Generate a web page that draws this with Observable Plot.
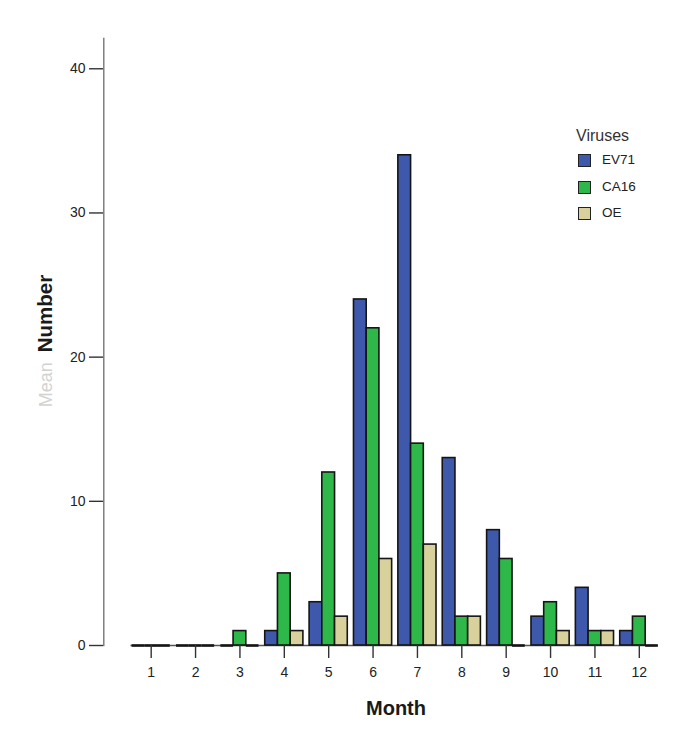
<!DOCTYPE html>
<html>
<head>
<meta charset="utf-8">
<script src="https://cdn.jsdelivr.net/npm/d3@7"></script>
<script src="https://cdn.jsdelivr.net/npm/@observablehq/plot@0.6"></script>
<style>
  html, body { margin: 0; padding: 0; background: #fff; }
  #wrap { position: relative; width: 685px; height: 735px; font-family: "Liberation Sans", Arial, sans-serif; }
  #legend { position: absolute; left: 0; top: 0; color: #333; }
  .lg-title { position: absolute; left: 576px; top: 127px; font-size: 16px; white-space: nowrap; }
  .lg-row { position: absolute; left: 578px; white-space: nowrap; height: 14px; }
  .lg-sw { position: absolute; left: 0; top: 0; width: 11px; height: 11px; border: 1.5px solid #222; }
  .lg-lab { position: absolute; left: 24px; top: -2px; font-size: 13.5px; color: #222; }
</style>
</head>
<body>
<div id="wrap"><div id="legend"></div></div>
<script>
const months = [1, 2, 3, 4, 5, 6, 7, 8, 9, 10, 11, 12];
const viruses = ["EV71", "CA16", "OE"];
const ev71 = [0, 0, 0, 1, 3, 24, 34, 13, 8, 2, 4, 1];
const ca16 = [0, 0, 1, 5, 12, 22, 14, 2, 6, 3, 1, 2];
const oe   = [0, 0, 0, 1, 2, 6, 7, 2, 0, 1, 1, 0];
const yTicks = [0, 10, 20, 30, 40];
const colors = ["#3E58AC", "#2EB84A", "#D8D19B"];
const legendTitle = "Viruses";
const xLabel = "Month";
const yLabelFaded = "Mean";
const yLabel = "Number";

const series = [ev71, ca16, oe];
const data = [];
months.forEach((m, i) => {
  viruses.forEach((v, j) => data.push({month: m, virus: v, value: series[j][i]}));
});

const chart = Plot.plot({
  width: 685,
  height: 735,
  marginLeft: 103,
  marginRight: 24,
  marginTop: 38,
  marginBottom: 90,
  style: {fontFamily: "'Liberation Sans', Arial, sans-serif", fontSize: "13px", color: "#222", background: "#fff"},
  fx: {domain: months, paddingInner: 0.14, paddingOuter: 0.07, insetLeft: 25.5, round: false, label: null, axis: null},
  x: {domain: viruses, padding: 0, round: false, axis: null},
  y: {domain: [0, 42.1], axis: null},
  color: {domain: viruses, range: colors},
  marks: [
    Plot.frame({anchor: "left", facet: "super", dx: -28.3, stroke: "#6a6a6a", strokeWidth: 1.3}),
    Plot.frame({anchor: "bottom", facet: "super", insetLeft: -1, insetRight: 4, stroke: "#555", strokeWidth: 1.3}),
    Plot.barY(data, {fx: "month", x: "virus", y: "value", fill: "virus", stroke: "#151515", strokeWidth: 1.6}),
    Plot.tickY(data, {filter: d => d.value === 0, fx: "month", x: "virus", y: "value", stroke: "#151515", strokeWidth: 2.6}),
    Plot.axisY({ticks: yTicks, tickSize: 14, tickPadding: 4, dx: -28.6, label: null, stroke: "#333", strokeWidth: 1.4, fontSize: 14, fill: "#222"}),
    Plot.axisFx({anchor: "bottom", tickSize: 13, tickPadding: 8.5, label: null, stroke: "#333", strokeWidth: 1.4, fontSize: 14, fill: "#222"})
  ]
});

document.getElementById("wrap").appendChild(chart);

const svg = d3.select(chart);
// x axis title
svg.append("text")
  .attr("x", 396).attr("y", 715)
  .attr("text-anchor", "middle")
  .attr("font-size", 20).attr("font-weight", "bold").attr("fill", "#1a1a1a")
  .text(xLabel);
// y axis title
const yt = svg.append("text")
  .attr("transform", "translate(52,341) rotate(-90)")
  .attr("text-anchor", "middle")
  .attr("font-size", 20.5);
yt.append("tspan").attr("fill", "#d2d2d2").attr("font-size", 18).text(yLabelFaded + "  ");
yt.append("tspan").attr("fill", "#1a1a1a").attr("font-weight", "bold").text(yLabel);

// legend
const legend = document.getElementById("legend");
const title = document.createElement("div");
title.className = "lg-title";
title.textContent = legendTitle;
legend.appendChild(title);
viruses.forEach((v, i) => {
  const row = document.createElement("div");
  row.className = "lg-row";
  row.style.top = (154 + i * 26.7) + "px";
  const sw = document.createElement("div");
  sw.className = "lg-sw";
  sw.style.background = colors[i];
  const lab = document.createElement("div");
  lab.className = "lg-lab";
  lab.textContent = v;
  row.appendChild(sw);
  row.appendChild(lab);
  legend.appendChild(row);
});
</script>
</body>
</html>
